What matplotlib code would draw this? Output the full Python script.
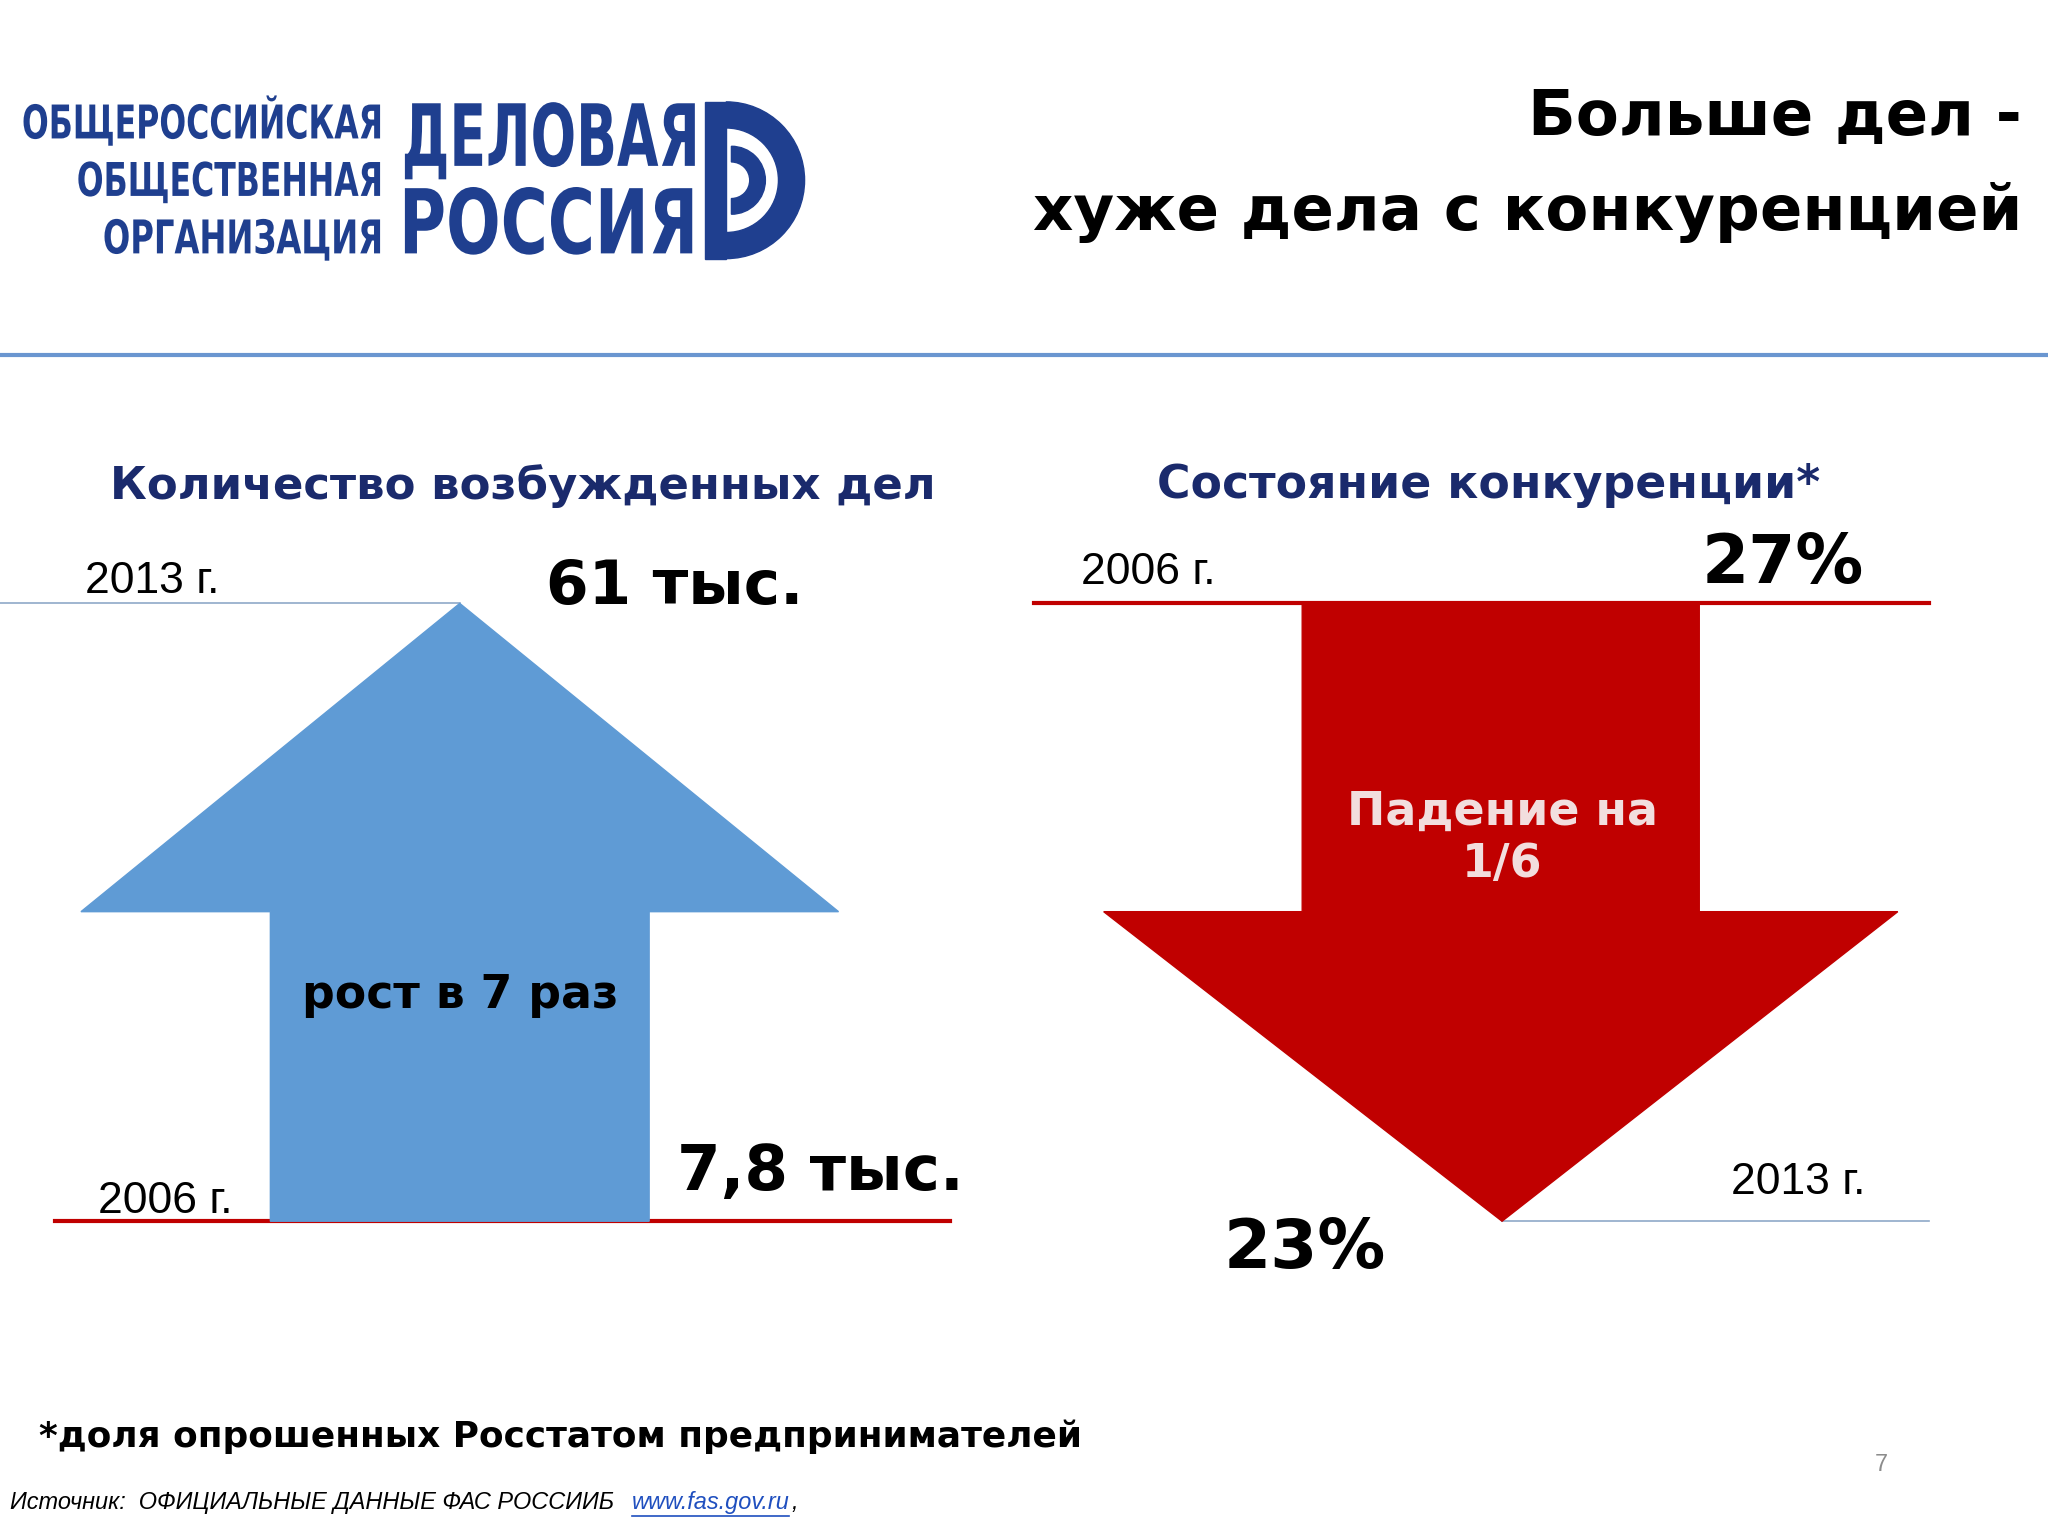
import matplotlib
matplotlib.use('Agg')
import matplotlib.pyplot as plt
from matplotlib.patches import Polygon, Wedge, Rectangle, PathPatch
from matplotlib.textpath import TextPath
from matplotlib.font_manager import FontProperties
from matplotlib.transforms import Affine2D

# data
cases_years = ['2006 г.', '2013 г.']
cases_labels = ['7,8 тыс.', '61 тыс.']
comp_years = ['2006 г.', '2013 г.']
comp_labels = ['27%', '23%']
growth_text = 'рост в 7 раз'
fall_text = 'Падение на\n1/6'

NAVY = '#1a2a6c'
LOGO = '#1f3f8f'
BLUE = '#5f9bd5'
RED = '#c00000'

W, H = 1568, 1176
S = 2048 / W


def fs(px):
    return px * S * 0.72


fig = plt.figure(figsize=(20.48, 15.36), dpi=100)
ax = fig.add_axes([0, 0, 1, 1])
ax.set_xlim(0, W)
ax.set_ylim(H, 0)
ax.axis('off')


def squeezed(text, x0, x1, ybase, height):
    # logo lettering fitted into a box [x0, x1] with cap height `height`
    tp = TextPath((0, 0), text, size=100, prop=FontProperties(family='DejaVu Sans', weight='bold'))
    ext = tp.get_extents()
    sx = (x1 - x0) / ext.width
    sy = height / 73.0
    tr = Affine2D().translate(-ext.x0, 0).scale(sx, -sy).translate(x0, ybase) + ax.transData
    ax.add_patch(PathPatch(tp, transform=tr, color=LOGO, lw=0))


squeezed('ОБЩЕРОССИЙСКАЯ', 18, 291, 106, 26)
squeezed('ОБЩЕСТВЕННАЯ', 60, 291, 150, 26)
squeezed('ОРГАНИЗАЦИЯ', 80, 291, 194, 26)
squeezed('ДЕЛОВАЯ', 310, 532, 127, 48)
squeezed('РОССИЯ', 310, 530, 194, 50)
ax.add_patch(Wedge((556, 138), 60, -90, 90, width=20, color=LOGO))
ax.add_patch(Rectangle((540, 78), 16, 120, color=LOGO))
ax.add_patch(Wedge((560, 138), 26, -90, 90, width=12, color=LOGO))

# title
ax.text(1548, 90, 'Больше дел -', ha='right', va='center', fontsize=fs(48),
        fontweight='bold', color='black')
ax.text(1548, 163, 'хуже дела с конкуренцией', ha='right', va='center', fontsize=fs(48),
        fontweight='bold', color='black')
ax.plot([0, W], [272, 272], color='#6a96d0', lw=3)

# subtitles
ax.text(400, 372, 'Количество возбужденных дел', ha='center', va='center',
        fontsize=fs(34.5), fontweight='bold', color=NAVY)
ax.text(1140, 372, 'Состояние конкуренции*', ha='center', va='center',
        fontsize=fs(35), fontweight='bold', color=NAVY)

# left: up arrow
ax.plot([0, 352], [462, 462], color='#8fa9c8', lw=1.2)
ax.plot([42, 727], [935, 935], color=RED, lw=3)
ax.add_patch(Polygon([(207, 935), (207, 698), (62, 698), (352, 462), (642, 698),
                      (497, 698), (497, 935)], closed=True, color=BLUE, zorder=2))
ax.text(65, 445, cases_years[1], ha='left', va='center', fontsize=fs(34),
        family='Liberation Sans')
ax.text(75, 920, cases_years[0], ha='left', va='center', fontsize=fs(34),
        family='Liberation Sans', zorder=3)
ax.text(418, 450, cases_labels[1], ha='left', va='center', fontsize=fs(47),
        fontweight='bold')
ax.text(518, 898, cases_labels[0], ha='left', va='center', fontsize=fs(48),
        fontweight='bold')
ax.text(352, 762, growth_text, ha='center', va='center', fontsize=fs(35),
        fontweight='bold', zorder=3)

# right: down arrow
ax.plot([792, 1477], [462, 462], color=RED, lw=3)
ax.plot([1150, 1477], [935, 935], color='#8fa9c8', lw=1.2)
ax.add_patch(Polygon([(997, 462), (997, 698), (845, 698), (1150, 935), (1453, 698),
                      (1301, 698), (1301, 462)], closed=True, color=RED, zorder=2))
ax.text(828, 438, comp_years[0], ha='left', va='center', fontsize=fs(34),
        family='Liberation Sans')
ax.text(1325, 905, comp_years[1], ha='left', va='center', fontsize=fs(34),
        family='Liberation Sans')
ax.text(1365, 432, comp_labels[0], ha='center', va='center', fontsize=fs(52),
        fontweight='bold')
ax.text(999, 956, comp_labels[1], ha='center', va='center', fontsize=fs(52),
        fontweight='bold')
ax.text(1150, 642, fall_text, ha='center', va='center', fontsize=fs(35),
        fontweight='bold', color='#f2dede', linespacing=1.2, zorder=3)

# footer
ax.text(30, 1100, '*доля опрошенных Росстатом предпринимателей', ha='left', va='center',
        fontsize=fs(27.5), fontweight='bold')
ax.text(1440, 1122, '7', ha='center', va='center', fontsize=fs(18), color='#8c8c8c',
        family='Liberation Sans')
ax.text(8, 1150, 'Источник:  ОФИЦИАЛЬНЫЕ ДАННЫЕ ФАС РОССИИБ', ha='left', va='center',
        fontsize=fs(18), style='italic', family='Liberation Sans')
ax.text(484, 1150, 'www.fas.gov.ru', ha='left', va='center', fontsize=fs(18),
        style='italic', family='Liberation Sans', color='#1f4fbf')
ax.plot([484, 604], [1161, 1161], color='#1f4fbf', lw=1.2)
ax.text(606, 1150, ',', ha='left', va='center', fontsize=fs(18), style='italic',
        family='Liberation Sans')

fig.savefig('out.png', dpi=100)
